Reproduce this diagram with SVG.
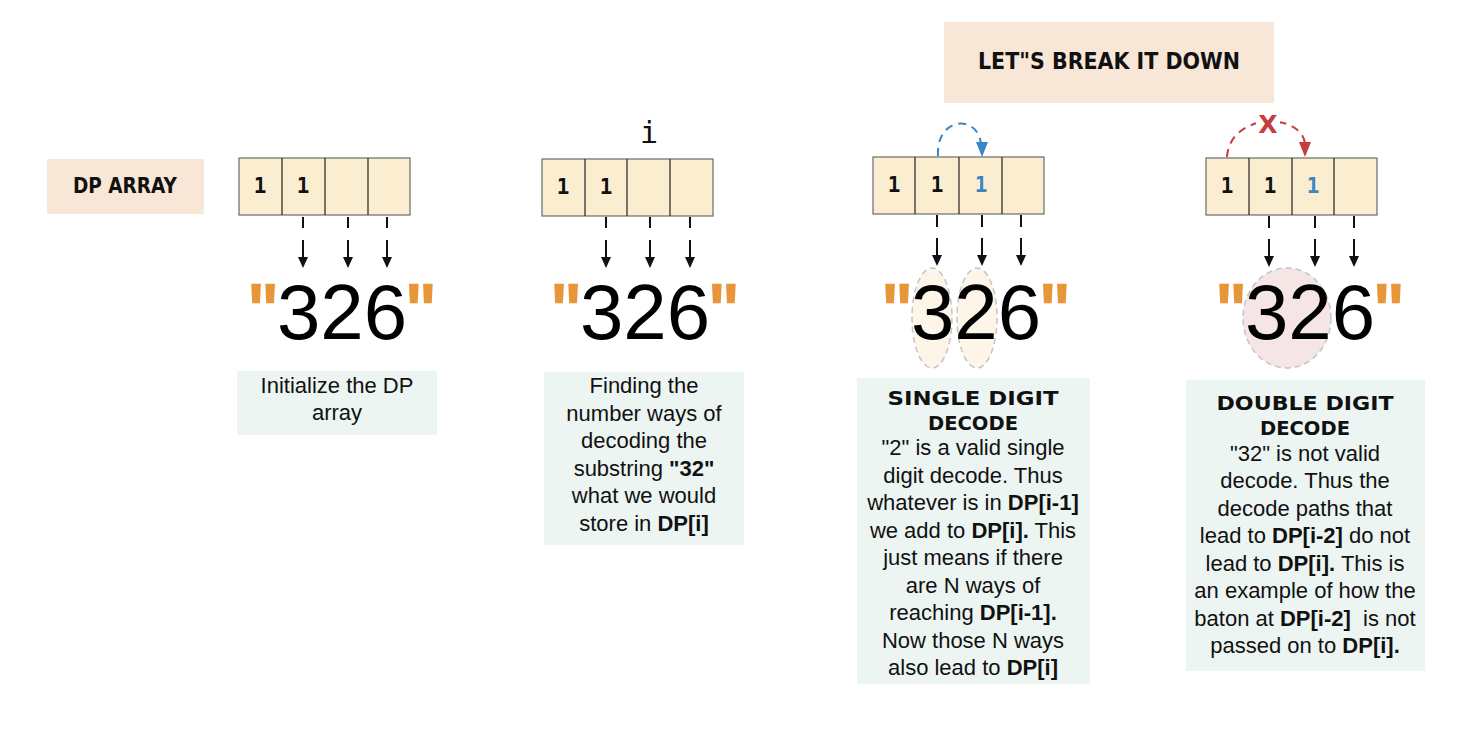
<svg xmlns="http://www.w3.org/2000/svg" width="1470" height="734" viewBox="0 0 1470 734">
<defs>
<style>
.bg{fill:#ffffff}
.label{fill:#f8e7d6}
.cap{fill:#edf5f3}
.cell{fill:#fbedcf;stroke:#6b6b6b;stroke-width:1.2}
.div{stroke:#222;stroke-width:1.2}
.comic{font-family:"DejaVu Sans",sans-serif;font-weight:bold;fill:#111;text-anchor:middle}
.num{font-family:"DejaVu Sans Mono","Liberation Mono",monospace;font-weight:bold;font-size:21px;fill:#111;text-anchor:middle}
.blue{fill:#3a86c4}
.big{font-family:"Liberation Sans",Arial,sans-serif;font-size:78px;fill:#000;text-anchor:middle}
.q{fill:#e8963a;stroke:#e8963a;stroke-width:2.5}
.body{font-family:"Liberation Sans",Arial,sans-serif;font-size:22px;fill:#111;text-anchor:middle}
.b{font-weight:bold}
.stem{stroke:#111;stroke-width:2}
.ah{fill:#111}
.ell{stroke:#c4c4c4;stroke-width:1.5;stroke-dasharray:6 4}
</style>
</defs>
<rect class="bg" x="0" y="0" width="1470" height="734"/>

<g id="dp-array-label">
<rect class="label" x="47" y="159" width="157" height="55"/>
<text class="comic" x="125" y="193" font-size="21" textLength="104" lengthAdjust="spacingAndGlyphs">DP ARRAY</text>
</g>

<g id="break-it-down">
<rect class="label" x="944" y="22" width="330" height="81"/>
<text class="comic" x="1109" y="69" font-size="23" textLength="262" lengthAdjust="spacingAndGlyphs">LET"S BREAK IT DOWN</text>
</g>

<!-- Panel 1 -->
<g id="array1">
<rect class="cell" x="239" y="158" width="171" height="57"/>
<line class="div" x1="282" y1="158" x2="282" y2="215"/>
<line class="div" x1="325" y1="158" x2="325" y2="215"/>
<line class="div" x1="368" y1="158" x2="368" y2="215"/>
<text class="num" x="260" y="193">1</text>
<text class="num" x="303" y="193">1</text>
</g>
<g id="string1">
<text class="big" x="342" y="339"><tspan class="q">"</tspan>326<tspan class="q">"</tspan></text>
</g>
<g id="caption1">
<rect class="cap" x="237" y="371" width="200" height="64"/>
<text class="body" x="337" y="393">Initialize the DP</text>
<text class="body" x="337" y="420">array</text>
</g>

<!-- Panel 2 -->
<g id="index-i">
<text x="649" y="143" font-family="DejaVu Sans Mono, Liberation Mono, monospace" font-size="30" fill="#111" text-anchor="middle">i</text>
</g>
<g id="array2">
<rect class="cell" x="542" y="159" width="171" height="57"/>
<line class="div" x1="585" y1="159" x2="585" y2="216"/>
<line class="div" x1="627" y1="159" x2="627" y2="216"/>
<line class="div" x1="670" y1="159" x2="670" y2="216"/>
<text class="num" x="563" y="194">1</text>
<text class="num" x="606" y="194">1</text>
</g>
<g id="string2">
<text class="big" x="645" y="339"><tspan class="q">"</tspan>326<tspan class="q">"</tspan></text>
</g>
<g id="caption2">
<rect class="cap" x="544" y="372" width="200" height="173"/>
<text class="body" x="644" y="393">Finding the</text>
<text class="body" x="644" y="421">number ways of</text>
<text class="body" x="644" y="448">decoding the</text>
<text class="body" x="644" y="476">substring <tspan class="b">"32"</tspan></text>
<text class="body" x="644" y="503">what we would</text>
<text class="body" x="644" y="531">store in <tspan class="b">DP[i]</tspan></text>
</g>

<!-- Panel 3 -->
<g id="array3">
<rect class="cell" x="873" y="157" width="171" height="57"/>
<line class="div" x1="915" y1="157" x2="915" y2="214"/>
<line class="div" x1="959" y1="157" x2="959" y2="214"/>
<line class="div" x1="1002" y1="157" x2="1002" y2="214"/>
<text class="num" x="894" y="192">1</text>
<text class="num" x="937" y="192">1</text>
<text class="num blue" x="981" y="192">1</text>
</g>
<g id="string3">
<ellipse class="ell" cx="932" cy="318" rx="20" ry="50" fill="#fdf6e8"/>
<ellipse class="ell" cx="977" cy="318" rx="20" ry="50" fill="#fdf6e8"/>
<text class="big" x="976" y="339"><tspan class="q">"</tspan>326<tspan class="q">"</tspan></text>
</g>
<g id="caption3">
<rect class="cap" x="857" y="378" width="233" height="306"/>
<text class="comic" x="973" y="405" font-size="20" textLength="171" lengthAdjust="spacingAndGlyphs">SINGLE DIGIT</text>
<text class="comic" x="973" y="430" font-size="20" textLength="90" lengthAdjust="spacingAndGlyphs">DECODE</text>
<text class="body" x="973" y="455">"2" is a valid single</text>
<text class="body" x="973" y="483">digit decode. Thus</text>
<text class="body" x="973" y="510">whatever is in <tspan class="b">DP[i-1]</tspan></text>
<text class="body" x="973" y="538">we add to <tspan class="b">DP[i].</tspan> This</text>
<text class="body" x="973" y="565">just means if there</text>
<text class="body" x="973" y="593">are N ways of</text>
<text class="body" x="973" y="620">reaching <tspan class="b">DP[i-1].</tspan></text>
<text class="body" x="973" y="648">Now those N ways</text>
<text class="body" x="973" y="675">also lead to <tspan class="b">DP[i]</tspan></text>
</g>

<!-- Panel 4 -->
<g id="array4">
<rect class="cell" x="1206" y="158" width="171" height="57"/>
<line class="div" x1="1249" y1="158" x2="1249" y2="215"/>
<line class="div" x1="1292" y1="158" x2="1292" y2="215"/>
<line class="div" x1="1334" y1="158" x2="1334" y2="215"/>
<text class="num" x="1227" y="193">1</text>
<text class="num" x="1270" y="193">1</text>
<text class="num blue" x="1313" y="193">1</text>
</g>
<g id="string4">
<ellipse class="ell" cx="1287" cy="318" rx="44" ry="50" fill="#f5e5e5"/>
<text class="big" x="1310" y="339"><tspan class="q">"</tspan>326<tspan class="q">"</tspan></text>
</g>
<g id="caption4">
<rect class="cap" x="1186" y="380" width="239" height="291"/>
<text class="comic" x="1305" y="410" font-size="20" textLength="177" lengthAdjust="spacingAndGlyphs">DOUBLE DIGIT</text>
<text class="comic" x="1305" y="435" font-size="20" textLength="90" lengthAdjust="spacingAndGlyphs">DECODE</text>
<text class="body" x="1305" y="461">"32" is not valid</text>
<text class="body" x="1305" y="488">decode. Thus the</text>
<text class="body" x="1305" y="516">decode paths that</text>
<text class="body" x="1305" y="543">lead to <tspan class="b">DP[i-2]</tspan> do not</text>
<text class="body" x="1305" y="571">lead to <tspan class="b">DP[i].</tspan> This is</text>
<text class="body" x="1305" y="598">an example of how the</text>
<text class="body" x="1305" y="626" xml:space="preserve">baton at <tspan class="b">DP[i-2]</tspan>  is not</text>
<text class="body" x="1305" y="653">passed on to <tspan class="b">DP[i].</tspan></text>
</g>

<g id="connectors">
<g>
<line class="stem" x1="303" y1="217" x2="303" y2="228"/><line class="stem" x1="303" y1="240" x2="303" y2="258"/><polygon class="ah" points="298,257 308,257 303,268"/>
<line class="stem" x1="348" y1="217" x2="348" y2="228"/><line class="stem" x1="348" y1="240" x2="348" y2="258"/><polygon class="ah" points="343,257 353,257 348,268"/>
<line class="stem" x1="387" y1="217" x2="387" y2="228"/><line class="stem" x1="387" y1="240" x2="387" y2="258"/><polygon class="ah" points="382,257 392,257 387,268"/>
</g>
<g>
<line class="stem" x1="606" y1="217" x2="606" y2="228"/><line class="stem" x1="606" y1="240" x2="606" y2="258"/><polygon class="ah" points="601,257 611,257 606,268"/>
<line class="stem" x1="650" y1="217" x2="650" y2="228"/><line class="stem" x1="650" y1="240" x2="650" y2="258"/><polygon class="ah" points="645,257 655,257 650,268"/>
<line class="stem" x1="690" y1="217" x2="690" y2="228"/><line class="stem" x1="690" y1="240" x2="690" y2="258"/><polygon class="ah" points="685,257 695,257 690,268"/>
</g>
<g>
<line class="stem" x1="937" y1="215" x2="937" y2="227"/><line class="stem" x1="937" y1="238" x2="937" y2="256"/><polygon class="ah" points="932,255 942,255 937,266"/>
<line class="stem" x1="982" y1="215" x2="982" y2="227"/><line class="stem" x1="982" y1="238" x2="982" y2="256"/><polygon class="ah" points="977,255 987,255 982,266"/>
<line class="stem" x1="1021" y1="215" x2="1021" y2="227"/><line class="stem" x1="1021" y1="238" x2="1021" y2="256"/><polygon class="ah" points="1016,255 1026,255 1021,266"/>
</g>
<g>
<line class="stem" x1="1269" y1="216" x2="1269" y2="228"/><line class="stem" x1="1269" y1="239" x2="1269" y2="257"/><polygon class="ah" points="1264,256 1274,256 1269,267"/>
<line class="stem" x1="1315" y1="216" x2="1315" y2="228"/><line class="stem" x1="1315" y1="239" x2="1315" y2="257"/><polygon class="ah" points="1310,256 1320,256 1315,267"/>
<line class="stem" x1="1354" y1="216" x2="1354" y2="228"/><line class="stem" x1="1354" y1="239" x2="1354" y2="257"/><polygon class="ah" points="1349,256 1359,256 1354,267"/>
</g>
<path d="M938,156 C936,116 978,114 981,144" fill="none" stroke="#3a86c4" stroke-width="2" stroke-dasharray="8 6"/>
<polygon points="976,142 988,142 982,157" fill="#3a86c4"/>
<path d="M1227,157 C1230,112 1302,112 1305,144" fill="none" stroke="#c63d40" stroke-width="2" stroke-dasharray="8 6"/>
<rect x="1256" y="112" width="24" height="24" fill="#ffffff"/>
<polygon points="1299,142 1311,142 1305,157" fill="#c63d40"/>
<text x="1268" y="133" font-family="DejaVu Sans, sans-serif" font-weight="bold" font-size="25" fill="#c63d40" text-anchor="middle">X</text>
</g>
</svg>
